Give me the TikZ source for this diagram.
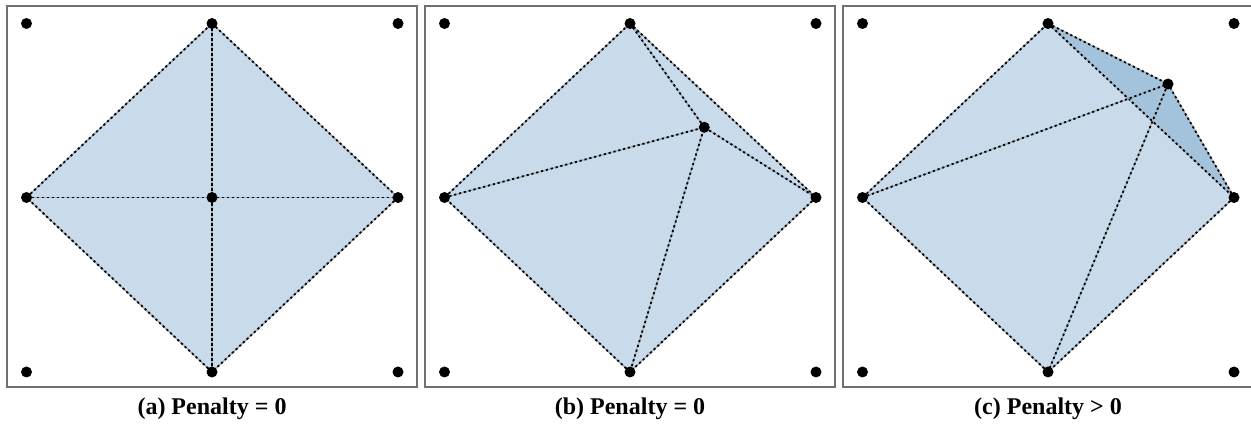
\documentclass[tikz,border=0pt]{standalone}
\usepackage{fontspec}
\setmainfont{Liberation Serif}
\usetikzlibrary{positioning}
\definecolor{meshcolor}{RGB}{201, 218, 234}
\definecolor{foldcolor}{RGB}{163, 195, 221}
\definecolor{framecolor}{RGB}{112, 112, 112}
\tikzset{
	vertex/.style={shape=circle, fill=black, inner sep=0pt, minimum size=5.5pt},
	panel/.style={draw=framecolor, line width=0.8pt},
	mesh/.style={fill=meshcolor},
	fold/.style={fill=foldcolor},
	link/.style={line width=0.9pt, dash pattern=on 1.1pt off 1.4pt, preaction={draw=meshcolor!80!black, solid, line width=0.7pt}},
	caption/.style={font=\bfseries\fontsize{12}{14}\selectfont}
}
\begin{document}
\begin{tikzpicture}[x=0.5pt, y=-0.5pt]
	\useasboundingbox (0,0) rectangle (1251,431);
	
	% Frames and grid points
	\foreach \p/\dx in {a/0, b/418, c/836} {
		\draw[panel] (\dx+7,6) rectangle (\dx+417,387);
		\coordinate (\p-tl) at (\dx+26.5,23.5);
		\coordinate (\p-t)  at (\dx+212,23.5);
		\coordinate (\p-tr) at (\dx+398,23.5);
		\coordinate (\p-l)  at (\dx+26.5,197.5);
		\coordinate (\p-r)  at (\dx+398,197.5);
		\coordinate (\p-bl) at (\dx+26.5,372);
		\coordinate (\p-b)  at (\dx+212,372);
		\coordinate (\p-br) at (\dx+398,372);
	}
	\coordinate (a-m) at (212,197.5);
	\coordinate (b-m) at (704.3,127.3);
	\coordinate (c-m) at (1168,84);
	
	% (a)
	\fill[mesh] (a-t) -- (a-r) -- (a-b) -- (a-l) -- cycle;
	\draw[link] (a-t) -- (a-r) -- (a-b) -- (a-l) -- cycle;
	\draw[link] (a-t) -- (a-b) (a-l) -- (a-r);
	
	% (b)
	\fill[mesh] (b-t) -- (b-r) -- (b-b) -- (b-l) -- cycle;
	\draw[link] (b-t) -- (b-r) -- (b-b) -- (b-l) -- cycle;
	\draw[link] (b-t) -- (b-m) -- (b-b) (b-l) -- (b-m) -- (b-r);
	
	% (c)
	\fill[mesh] (c-t) -- (c-r) -- (c-b) -- (c-l) -- cycle;
	\fill[fold] (c-t) -- (c-m) -- (c-r) -- cycle;
	\draw[link] (c-t) -- (c-r) -- (c-b) -- (c-l) -- cycle;
	\draw[link] (c-t) -- (c-m) -- (c-b) (c-l) -- (c-m) -- (c-r);
	
	% Vertices
	\foreach \p in {a, b, c} {
		\foreach \q in {tl, t, tr, l, r, bl, b, br, m} {
			\node[vertex] (\p-\q-dot) at (\p-\q) {};
		}
	}
	
	% Captions
	\node[caption] (a-cap) at (212,409) {(a) Penalty = 0};
	\node[caption] (b-cap) at (630,409) {(b) Penalty = 0};
	\node[caption] (c-cap) at (1048,409) {(c) Penalty > 0};
\end{tikzpicture}
\end{document}
